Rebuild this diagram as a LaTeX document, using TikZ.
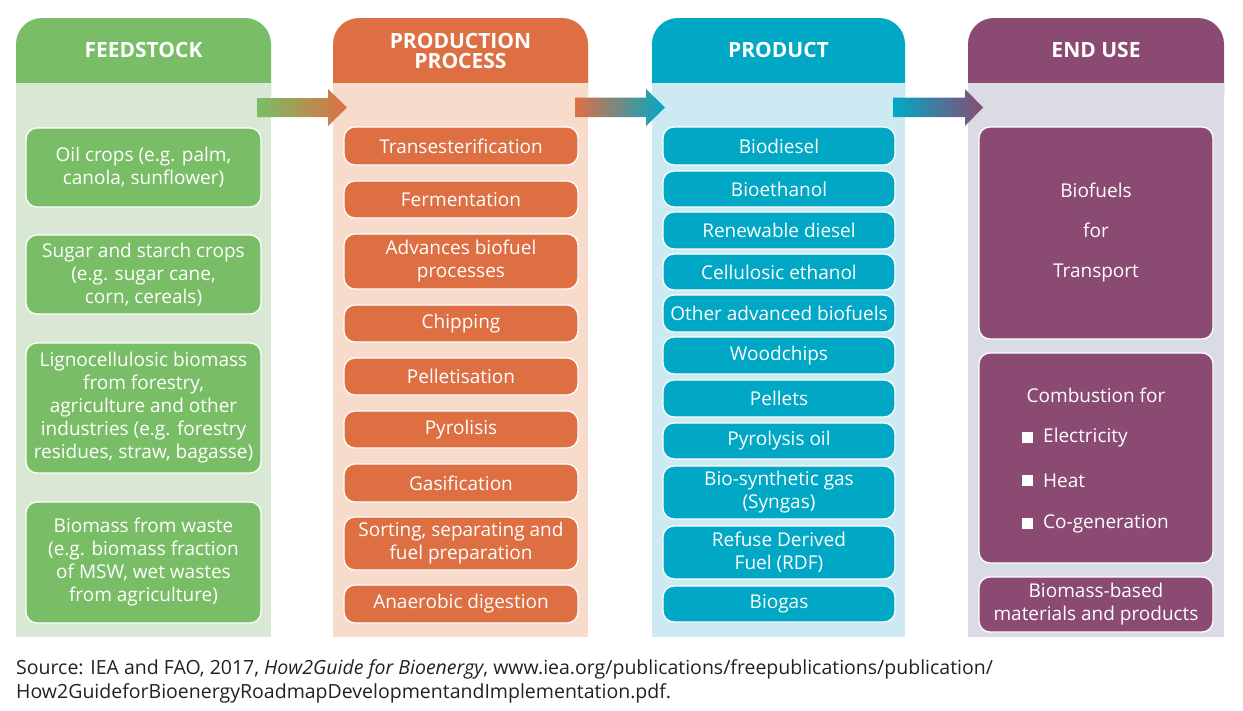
\documentclass[tikz,border=0pt]{standalone}
\usepackage{fontspec}
\setmainfont{Open Sans}
\usetikzlibrary{calc}
\definecolor{gD}{HTML}{79BE66}
\definecolor{gL}{HTML}{D8E8D5}
\definecolor{oD}{HTML}{DE6F43}
\definecolor{oL}{HTML}{F7DBCB}
\definecolor{tD}{HTML}{00A8C6}
\definecolor{tL}{HTML}{CDE9F1}
\definecolor{pD}{HTML}{8A4A71}
\definecolor{pL}{HTML}{DBDBE3}
\definecolor{srcC}{HTML}{222222}
\newcommand{\mybox}[7]{%
  \node[box, fill=#2, minimum width={(#5-#3)*1pt}, minimum height={(#6-#4)*1pt}] (#1) at ({(#3+#5)/2},{(#4+#6)/2}) {#7};}
\begin{document}
\begin{tikzpicture}[x=1pt,y=-1pt,
  box/.style={rounded corners=11pt, draw=white, line width=1.3pt, text=white, align=center, inner sep=0pt,
    font=\fontsize{19}{23}\selectfont},
  hdr/.style={text=white, align=center, font=\bfseries\fontsize{21}{21}\selectfont},
  itm/.style={text=white, anchor=west, inner sep=0pt, font=\fontsize{19}{23}\selectfont},
  plain/.style={text=white, align=center, inner sep=0pt, font=\fontsize{19}{23}\selectfont},
  src/.style={text=srcC, anchor=west, inner sep=0pt, font=\fontsize{19.5}{20}\selectfont}]
\useasboundingbox (0,0) rectangle (1243,710);
\fill[white] (0,0) rectangle (1243,710);

% column backgrounds
\fill[gD, rounded corners=26pt] (16,18) rectangle (271,120);
\fill[gL] (16,83) rectangle (271,637);
\fill[oD, rounded corners=26pt] (333,18) rectangle (588,120);
\fill[oL] (333,83) rectangle (588,637);
\fill[tD, rounded corners=26pt] (652,18) rectangle (905,120);
\fill[tL] (652,83) rectangle (905,637);
\fill[pD, rounded corners=26pt] (968,18) rectangle (1224,120);
\fill[pL] (968,83) rectangle (1224,637);

% headers
\node[hdr] (h1) at (143.5,50) {FEEDSTOCK};
\node[hdr] (h2) at (460.5,51) {PRODUCTION\\[-1pt]PROCESS};
\node[hdr] (h3) at (778.5,50) {PRODUCT};
\node[hdr] (h4) at (1096,50) {END USE};

% gradient arrows
\shade[left color=gD, right color=oD] (257,98) -- (328,98) -- (328,89) -- (347,107.5) -- (328,126) -- (328,117) -- (257,117) -- cycle;
\shade[left color=oD, right color=tD] (575,97.5) -- (646,97.5) -- (646,89) -- (665,107.5) -- (646,126) -- (646,117) -- (575,117) -- cycle;
\shade[left color=tD, right color=pD] (893,97.5) -- (965,97.5) -- (965,89) -- (983,107.5) -- (965,126) -- (965,117) -- (893,117) -- cycle;

% feedstock
\mybox{f1}{gD}{26}{128}{261}{207}{Oil crops (e.g. palm,\\canola, sunflower)}
\mybox{f2}{gD}{26}{235}{261}{314}{Sugar and starch crops\\(e.g. sugar cane,\\corn, cereals)}
\mybox{f3}{gD}{26}{343}{261}{473}{Lignocellulosic biomass\\from forestry,\\agriculture and other\\industries (e.g. forestry\\residues, straw, bagasse)}
\mybox{f4}{gD}{26}{502}{261}{623}{Biomass from waste\\(e.g. biomass fraction\\of MSW, wet wastes\\from agriculture)}

% production process
\mybox{p1}{oD}{344}{127}{578}{165}{Transesterification}
\mybox{p2}{oD}{344}{181}{578}{218}{Fermentation}
\mybox{p3}{oD}{344}{234}{578}{289}{Advances biofuel\\processes}
\mybox{p4}{oD}{344}{305}{578}{342}{Chipping}
\mybox{p5}{oD}{344}{358}{578}{395}{Pelletisation}
\mybox{p6}{oD}{344}{411}{578}{448}{Pyrolisis}
\mybox{p7}{oD}{344}{464}{578}{502}{Gasification}
\mybox{p8}{oD}{344}{517}{578}{570}{Sorting, separating and\\fuel preparation}
\mybox{p9}{oD}{344}{585}{578}{623}{Anaerobic digestion}

% product
\mybox{q1}{tD}{663}{127}{895}{165}{Biodiesel}
\mybox{q2}{tD}{663}{171}{895}{207}{Bioethanol}
\mybox{q3}{tD}{663}{212}{895}{249}{Renewable diesel}
\mybox{q4}{tD}{663}{254}{895}{290}{Cellulosic ethanol}
\mybox{q5}{tD}{663}{295}{895}{332}{Other advanced biofuels}
\mybox{q6}{tD}{663}{337}{895}{374}{Woodchips}
\mybox{q7}{tD}{663}{380}{895}{417}{Pellets}
\mybox{q8}{tD}{663}{423}{895}{459}{Pyrolysis oil}
\mybox{q9}{tD}{663}{466}{895}{519}{Bio-synthetic gas\\(Syngas)}
\mybox{q10}{tD}{663}{526}{895}{579}{Refuse Derived\\Fuel (RDF)}
\mybox{q11}{tD}{663}{586}{895}{622}{Biogas}

% end use
\mybox{e1}{pD}{979}{127}{1213}{339}{Biofuels\\[17pt]for\\[17pt]Transport}
\mybox{e2}{pD}{979}{353}{1213}{563}{}
\mybox{e3}{pD}{979}{577}{1213}{632}{Biomass-based\\materials and products}
\node[plain] (e2t) at (1096,395) {Combustion for};
\fill[white] (1022,432) rectangle (1033,443);
\node[itm] (e2a) at (1043,437.5) {Electricity};
\fill[white] (1022,475) rectangle (1033,486);
\node[itm] (e2b) at (1043,480.5) {Heat};
\fill[white] (1022,518) rectangle (1033,529);
\node[itm] (e2c) at (1043,523.5) {Co-generation};

% source
\node[src] (s1) at (16,669) {Source: IEA and FAO, 2017, \textit{How2Guide for Bioenergy}, www.iea.org/publications/freepublications/publication/};
\node[src] (s2) at (16,693) {How2GuideforBioenergyRoadmapDevelopmentandImplementation.pdf.};
\end{tikzpicture}
\end{document}
